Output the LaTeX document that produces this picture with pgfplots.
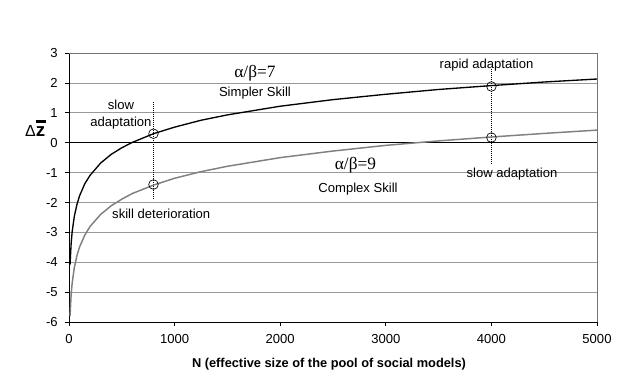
\documentclass[border=0pt]{standalone}
\usepackage{pgfplots}
\pgfplotsset{compat=1.18}
\usepackage{fontspec}
\setmainfont{Liberation Sans}
\newfontfamily\seriffont{Liberation Serif}
\begin{document}
\begin{tikzpicture}
\begin{axis}[
  at={(0,0)}, anchor=south west,
  scale only axis, width=396pt, height=201.75pt,
  xmin=0, xmax=5000, ymin=-6, ymax=3,
  xtick={0,1000,2000,3000,4000,5000},
  ytick={-6,-5,-4,-3,-2,-1,0,1,2,3},
  axis x line*=bottom, axis y line*=left,
  axis line style={black, line width=0.6pt},
  x axis line style={-}, y axis line style={-},
  tick align=outside, major tick length=3pt,
  tick style={black, line width=0.6pt},
  ymajorgrids, grid style={gray!80, line width=0.6pt},
  /pgf/number format/assume math mode=true,
  /pgf/number format/set thousands separator={},
  tick label style={font=\fontsize{9.8}{11}\selectfont},
  xticklabel style={yshift=-3pt},
  yticklabel style={xshift=-2pt},
  clip=false,
]
\draw[gray!90!black, line width=0.6pt] (rel axis cs:0,1) -- (rel axis cs:1,1) -- (rel axis cs:1,0);
\draw[black, line width=0.6pt] (axis cs:0,0) -- (axis cs:5000,0);
% dotted guides
\addplot[black, densely dotted, line width=0.5pt] coordinates {(800,1.35) (800,-1.87)};
\addplot[black, densely dotted, line width=0.5pt] coordinates {(4000,2.47) (4000,-0.70)};
% simpler skill (alpha/beta=7)
\addplot[black, line width=1pt] coordinates {
(10,-4.08) (20,-3.39) (30,-2.98) (50,-2.47) (75,-2.07) (100,-1.78) (150,-1.37)
(200,-1.09) (300,-0.68) (400,-0.39) (500,-0.17) (600,0.01) (800,0.30) (1000,0.52)
(1250,0.75) (1500,0.93) (2000,1.22) (2500,1.44) (3000,1.62) (3500,1.78) (4000,1.91)
(4500,2.03) (5000,2.13)};
% complex skill (alpha/beta=9)
\addplot[gray, line width=1.1pt] coordinates {
(10,-5.80) (20,-5.10) (30,-4.70) (50,-4.19) (75,-3.78) (100,-3.49) (150,-3.09)
(200,-2.80) (300,-2.40) (400,-2.11) (500,-1.89) (600,-1.70) (800,-1.42) (1000,-1.19)
(1250,-0.97) (1500,-0.79) (2000,-0.50) (2500,-0.28) (3000,-0.09) (3500,0.06) (4000,0.19)
(4500,0.31) (5000,0.42)};
% marked points
\addplot[only marks, mark=o, mark size=3.6pt, black, line width=0.5pt] coordinates {
(800,0.30) (800,-1.40) (4000,1.88) (4000,0.17)};
% annotations
\node[font=\seriffont\fontsize{13}{14}\selectfont] at (axis cs:1761,2.31) {α/β=7};
\node[font=\fontsize{9.8}{11}\selectfont] at (axis cs:1761,1.67) {Simpler Skill};
\node[font=\seriffont\fontsize{13}{14}\selectfont] at (axis cs:2713,-0.77) {α/β=9};
\node[font=\fontsize{9.8}{11}\selectfont] at (axis cs:2737,-1.54) {Complex Skill};
\node[font=\fontsize{9.8}{11}\selectfont] at (axis cs:492,1.27) {slow};
\node[font=\fontsize{9.8}{11}\selectfont] at (axis cs:492,0.64) {adaptation};
\node[font=\fontsize{9.8}{11}\selectfont, anchor=west, inner sep=0pt] at (axis cs:407,-2.37) {skill deterioration};
\node[font=\fontsize{9.8}{11}\selectfont] at (axis cs:3954,2.58) {rapid adaptation};
\node[font=\fontsize{9.8}{11}\selectfont] at (axis cs:4195,-1.04) {slow adaptation};
\node[font=\bfseries\fontsize{9.6}{11}\selectfont] at (axis cs:2462,-7.40) {N (effective size of the pool of social models)};
\node[inner sep=0pt] at (axis cs:-320,0.4) {{\fontsize{12}{13}\selectfont Δ}\ooalign{{\bfseries\fontsize{14}{15}\selectfont z}\cr\hidewidth\rule[10pt]{7.5pt}{2.2pt}\hidewidth\cr}};
\end{axis}
\pgfresetboundingbox
\path (-51.75pt,-50.25pt) rectangle (428.25pt,241.5pt);
\end{tikzpicture}
\end{document}
